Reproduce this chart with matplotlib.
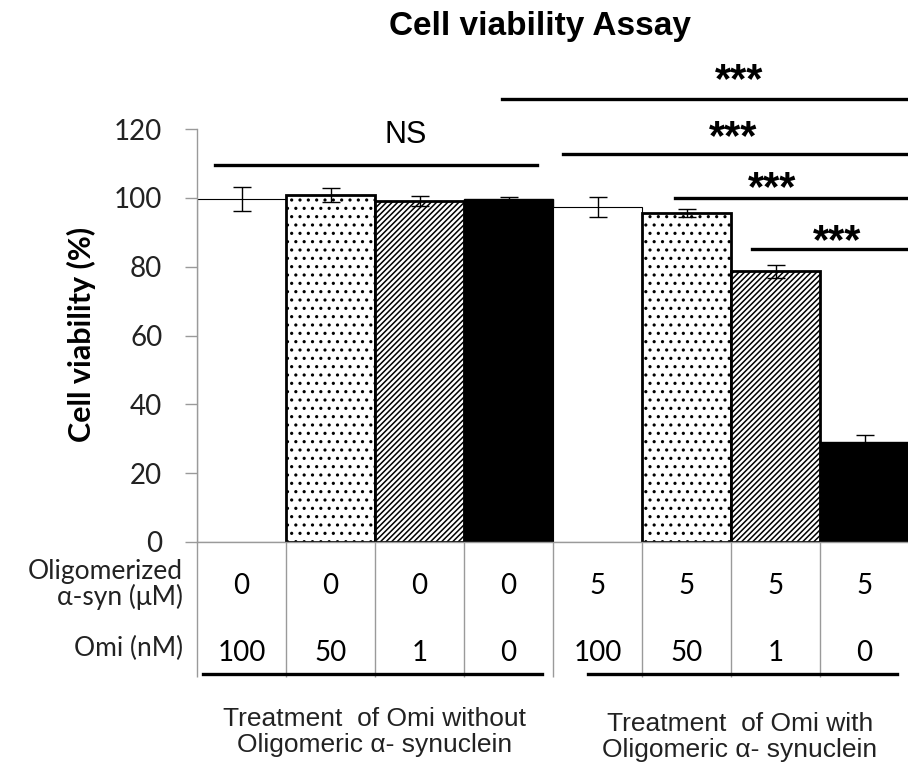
import numpy as np
import matplotlib
matplotlib.use("Agg")
import matplotlib.pyplot as plt

# data
viability = [99.6, 100.8, 99.0, 99.7, 97.3, 95.6, 78.6, 29.1]
errors = [3.5, 2.0, 1.5, 0.5, 3.0, 1.3, 1.8, 2.0]
asyn_um = ["0", "0", "0", "0", "5", "5", "5", "5"]
omi_nm = ["100", "50", "1", "0", "100", "50", "1", "0"]
group_labels = ["Treatment  of Omi without\nOligomeric α- synuclein",
                "Treatment  of Omi with\nOligomeric α- synuclein"]
y_ticks = [0, 20, 40, 60, 80, 100, 120]

# bar styles repeat per group: white, dotted, hatched, black
faces = ["white", "white", "white", "black"] * 2
hatches = [None, "..", "//////", None] * 2
edge_w = [0.8, 2.0, 2.0, 1.0] * 2

plt.rcParams["hatch.linewidth"] = 1.1
grey = "#9a9a9a"
calibri = ["Lato", "DejaVu Sans"]
narrow = ["Liberation Sans Narrow", "Liberation Sans", "DejaVu Sans"]

fig = plt.figure(figsize=(9.08, 7.67), dpi=100)
ax = fig.add_axes([197 / 908, 225 / 767, 712 / 908, 413 / 767])

x = np.arange(len(viability))
for i in x:
    ax.bar(i, viability[i], width=1.0, color=faces[i], edgecolor="black",
           hatch=hatches[i], linewidth=edge_w[i], zorder=2)
ax.errorbar(x, viability, yerr=errors, fmt="none", ecolor="black",
            elinewidth=1.0, capsize=6.5, capthick=1.0, zorder=3)

ax.set_xlim(-0.5, 7.5)
ax.set_ylim(0, 120)
ax.set_yticks(y_ticks)
ax.set_yticklabels([str(t) for t in y_ticks], family=calibri, fontsize=20,
                   color="#222222")
ax.tick_params(axis="y", length=9, width=1, color=grey, pad=16)
# x ticks at the bar borders make the table grid
ax.set_xticks(np.arange(-0.5, 7.0, 1.0))
ax.set_xticklabels([])
ax.tick_params(axis="x", length=97, width=1, color=grey, direction="out")
for s in ["top", "right"]:
    ax.spines[s].set_visible(False)
for s in ["left", "bottom"]:
    ax.spines[s].set_color(grey)
    ax.spines[s].set_linewidth(1)

# table text under the bars
for i in x:
    ax.text(i, -12.8, asyn_um[i], ha="center", va="center", fontsize=20,
            family=calibri, clip_on=False)
    ax.text(i, -32.3, omi_nm[i], ha="center", va="center", fontsize=20,
            family=calibri, clip_on=False)
ax.text(-0.66, -12.3, "Oligomerized\nα-syn (μM)", ha="right", va="center",
        fontsize=19, family=calibri, linespacing=1.0, color="#222222",
        clip_on=False)
ax.text(-0.66, -30.8, "Omi (nM)", ha="right", va="center", fontsize=19,
        family=calibri, color="#222222", clip_on=False)

# underlines of the two groups
ax.plot([-0.43, 3.38], [-38.4, -38.4], color="black", lw=2.4, clip_on=False)
ax.plot([3.89, 7.37], [-38.4, -38.4], color="black", lw=2.4, clip_on=False)
ax.text(1.49, -55.2, group_labels[0], ha="center", va="center", fontsize=19,
        family=narrow, linespacing=1.1, color="#222222", clip_on=False)
ax.text(5.60, -56.7, group_labels[1], ha="center", va="center", fontsize=19,
        family=narrow, linespacing=1.1, color="#222222", clip_on=False)

# significance brackets: (x start, x end, y line, label x, label y, text)
brackets = [
    (-0.30, 3.32, 109.6, 1.85, 118.3, "NS"),
    (2.93, 7.6, 128.8, 5.59, 136.3, "***"),
    (3.61, 7.6, 112.8, 5.52, 119.8, "***"),
    (4.87, 7.6, 99.9, 5.96, 104.9, "***"),
    (5.74, 7.6, 85.2, 6.69, 89.5, "***"),
]
for x0, x1, yl, tx, ty, lab in brackets:
    ax.plot([x0, x1], [yl, yl], color="black", lw=2.4, clip_on=False, zorder=4)
    if lab == "NS":
        ax.text(tx, ty, lab, ha="center", va="center", fontsize=22,
                family="Liberation Sans", clip_on=False)
    else:
        ax.text(tx, ty - 2.5, lab, ha="center", va="center", fontsize=30,
                family="Liberation Sans", weight="bold", clip_on=False)

fig.text(81 / 908, 1 - 334 / 767, "Cell viability (%)", rotation=90,
         ha="center", va="center", fontsize=22, weight="bold", family=calibri)
fig.text(540 / 908, 1 - 26 / 767, "Cell viability Assay", ha="center",
         va="center", fontsize=24, weight="bold", family="Liberation Sans")

fig.savefig("out.png", dpi=100)
